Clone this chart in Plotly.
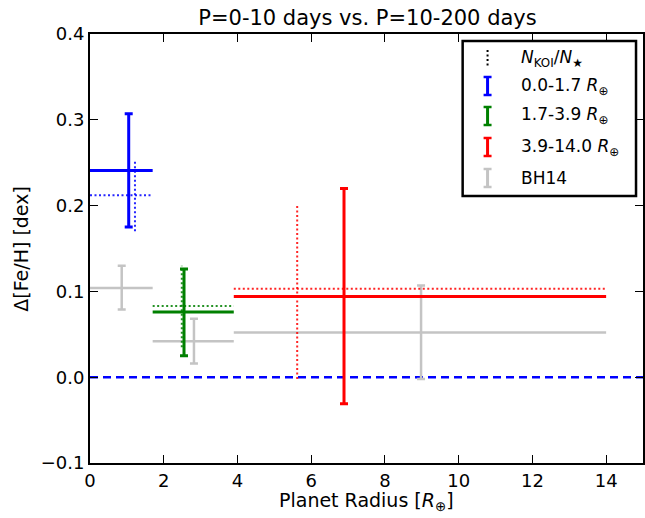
import plotly.graph_objects as go

# ---------------- data ----------------
series_names = ["0.0-1.7", "1.7-3.9", "3.9-14.0"]
bin_lo = [0.0, 1.7, 3.9]
bin_hi = [1.7, 3.9, 14.0]

# P=0-10 vs P=10-200 days, solid
solid_x = [1.05, 2.55, 6.89]
solid_y = [0.241, 0.076, 0.094]
solid_ylo = [0.175, 0.025, -0.031]
solid_yhi = [0.307, 0.126, 0.220]

# N_KOI / N_star (dotted)
dot_x = [1.22, 2.49, 5.62]
dot_y = [0.212, 0.083, 0.103]
dot_ylo = [0.170, 0.035, -0.002]
dot_yhi = [0.252, 0.130, 0.202]

# BH14
bh_x = [0.86, 2.82, 8.98]
bh_y = [0.104, 0.042, 0.052]
bh_ylo = [0.079, 0.016, -0.002]
bh_yhi = [0.130, 0.068, 0.107]

colors = ["#0000ff", "#008000", "#ff0000"]
gray = "#c4c4c4"

x_ticks = [0, 2, 4, 6, 8, 10, 12, 14]
y_ticks = [-0.1, 0.0, 0.1, 0.2, 0.3, 0.4]

FONT = "DejaVu Sans"

fig = go.Figure()

# zero line
fig.add_trace(go.Scatter(x=[0, 15], y=[0, 0], mode="lines",
                         line=dict(color="#0000ff", width=2.5, dash="8px,5px"),
                         showlegend=False, hoverinfo="skip"))

# BH14 gray
for i in range(3):
    fig.add_trace(go.Scatter(
        x=[bh_x[i]], y=[bh_y[i]], mode="markers",
        marker=dict(size=1, color=gray, opacity=0), showlegend=False,
        error_x=dict(type="data", symmetric=False,
                     array=[bin_hi[i] - bh_x[i]], arrayminus=[bh_x[i] - bin_lo[i]],
                     width=0, thickness=2.5, color=gray),
        error_y=dict(type="data", symmetric=False,
                     array=[bh_yhi[i] - bh_y[i]], arrayminus=[bh_y[i] - bh_ylo[i]],
                     width=4, thickness=2.5, color=gray)))

# dotted N_KOI/N_star
for i in range(3):
    fig.add_trace(go.Scatter(x=[bin_lo[i], bin_hi[i]], y=[dot_y[i], dot_y[i]], mode="lines",
                             line=dict(color=colors[i], width=2, dash="2px,2.5px"),
                             opacity=0.85, showlegend=False, hoverinfo="skip"))
    fig.add_trace(go.Scatter(x=[dot_x[i], dot_x[i]], y=[dot_ylo[i], dot_yhi[i]], mode="lines",
                             line=dict(color=colors[i], width=2, dash="2px,2.5px"),
                             opacity=0.85, showlegend=False, hoverinfo="skip"))

# solid
for i in range(3):
    fig.add_trace(go.Scatter(
        x=[solid_x[i]], y=[solid_y[i]], mode="markers",
        marker=dict(size=1, color=colors[i], opacity=0), showlegend=False,
        error_x=dict(type="data", symmetric=False,
                     array=[bin_hi[i] - solid_x[i]], arrayminus=[solid_x[i] - bin_lo[i]],
                     width=0, thickness=3, color=colors[i]),
        error_y=dict(type="data", symmetric=False,
                     array=[solid_yhi[i] - solid_y[i]], arrayminus=[solid_y[i] - solid_ylo[i]],
                     width=4, thickness=3, color=colors[i])))

# ---------------- layout ----------------
L, R, T, B = 90, 0, 34, 55
W, H = 645, 518
PW, PH = W - L - R, H - T - B


def px(xpix):
    return (xpix - L) / PW


def py(ypix):
    return (H - B - ypix) / PH


shapes = []
annotations = []

# legend box
shapes.append(dict(type="rect", xref="paper", yref="paper",
                   x0=px(464), x1=px(638), y0=py(196), y1=py(41),
                   line=dict(color="black", width=2.5), fillcolor="white", layer="above"))

leg_labels = ["<i>N</i><sub>KOI</sub>/<i>N</i><sub>★</sub>",
              series_names[0] + " <i>R</i><sub>⊕</sub>",
              series_names[1] + " <i>R</i><sub>⊕</sub>",
              series_names[2] + " <i>R</i><sub>⊕</sub>",
              "BH14"]
leg_colors = ["black"] + colors + [gray]
rows = [58, 86, 116, 147, 178]
ix = 489
for k, (lab, col, yc) in enumerate(zip(leg_labels, leg_colors, rows)):
    if k == 0:
        shapes.append(dict(type="line", xref="paper", yref="paper",
                           x0=px(ix), x1=px(ix), y0=py(yc - 8), y1=py(yc + 8),
                           line=dict(color=col, width=2, dash="2px,2.5px"), layer="above"))
    else:
        shapes.append(dict(type="line", xref="paper", yref="paper",
                           x0=px(ix), x1=px(ix), y0=py(yc - 9), y1=py(yc + 9),
                           line=dict(color=col, width=3), layer="above"))
        for d in (-9, 9):
            shapes.append(dict(type="line", xref="paper", yref="paper",
                               x0=px(ix - 4), x1=px(ix + 4), y0=py(yc + d), y1=py(yc + d),
                               line=dict(color=col, width=2.5), layer="above"))
    annotations.append(dict(xref="paper", yref="paper", x=px(521), y=py(yc),
                            xanchor="left", yanchor="middle", showarrow=False,
                            text=lab, font=dict(family=FONT, size=17, color="black")))

# axis titles
annotations.append(dict(xref="paper", yref="paper", x=0.5, y=py(487),
                        xanchor="center", yanchor="top", showarrow=False,
                        text="Planet Radius [<i>R</i><sub>⊕</sub>]",
                        font=dict(family=FONT, size=19, color="black")))
annotations.append(dict(xref="paper", yref="paper", x=px(20), y=0.5,
                        xanchor="center", yanchor="middle", showarrow=False, textangle=-90,
                        text="Δ[Fe/H] [dex]",
                        font=dict(family=FONT, size=19, color="black")))

axis_common = dict(showline=True, linecolor="black", linewidth=2, mirror="ticks",
                   ticks="inside", ticklen=8, tickwidth=1.2, tickcolor="black",
                   showgrid=False, zeroline=False,
                   tickfont=dict(family=FONT, size=18, color="black"))

fig.update_layout(
    width=W, height=H,
    margin=dict(l=L, r=R, t=T, b=B),
    plot_bgcolor="white", paper_bgcolor="white",
    font=dict(family=FONT, size=18, color="black"),
    title=dict(text="P=0-10 days vs. P=10-200 days", x=(L + PW / 2) / W, xanchor="center",
               y=1 - 18 / H, yanchor="middle", xref="container", yref="container",
               font=dict(family=FONT, size=21, color="black")),
    xaxis=dict(range=[0, 15], tickvals=x_ticks, ticktext=[str(v) for v in x_ticks],
               **axis_common),
    yaxis=dict(range=[-0.1, 0.4], tickvals=y_ticks,
               ticktext=[("−" if v < 0 else "") + f"{abs(v):.1f}" for v in y_ticks],
               **axis_common),
    shapes=shapes, annotations=annotations, showlegend=False,
)

fig.write_html("out.html", config={"displayModeBar": False},
               post_script="document.body.style.margin='0';document.body.style.overflow='hidden';")
